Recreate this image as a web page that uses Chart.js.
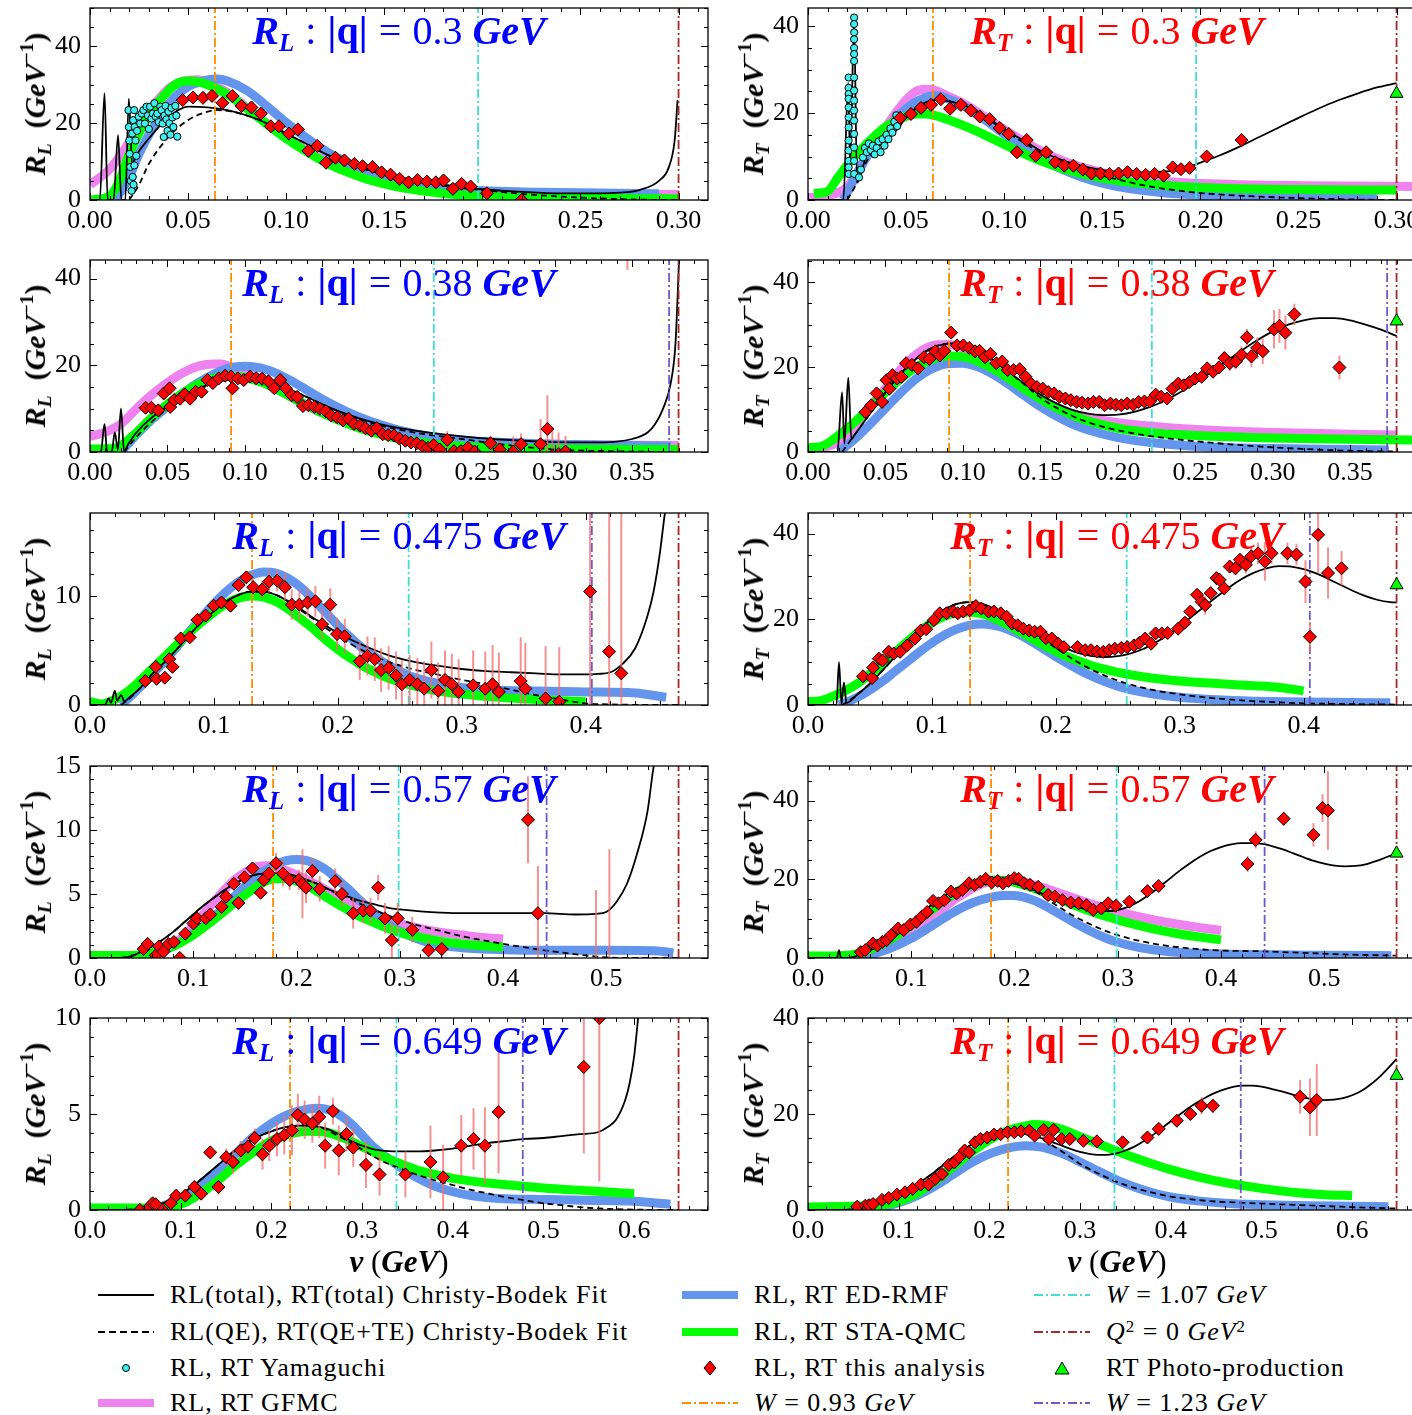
<!DOCTYPE html>
<html>
<head>
<meta charset="utf-8">
<script src="https://cdn.jsdelivr.net/npm/chart.js@4.4.1/dist/chart.umd.min.js"></script>
<style>
  html, body { margin: 0; padding: 0; background: #fff; }
  body { position: relative; width: 1412px; height: 1415px; overflow: hidden; font-family: 'Liberation Serif', 'DejaVu Serif', serif; color: #000; }
  canvas.panel { position: absolute; }
  .title { position: absolute; width: 618px; text-align: center; font-size: 40px; line-height: 44px; white-space: nowrap; }
  .title sub { font-size: 0.62em; vertical-align: -0.3em; line-height: 0; }
  .title .op { margin: 0 0.28em; }
  .ylab { position: absolute; font-size: 30px; white-space: nowrap; transform: translate(-50%, -50%) rotate(-90deg); }
  .ylab sub { font-size: 0.65em; vertical-align: -0.3em; line-height: 0; }
  .ylab sup { font-size: 0.65em; vertical-align: 0.6em; line-height: 0; }
  .xlab { position: absolute; font-size: 31px; white-space: nowrap; transform: translate(-50%, -50%); }
  .leg { position: absolute; height: 30px; display: flex; align-items: center; font-size: 26px; letter-spacing: 1px; white-space: nowrap; }
  .leg svg { margin-right: 16px; flex: none; }
  .leg sup { font-size: 0.65em; vertical-align: 0.5em; line-height: 0; }
</style>
</head>
<body>
<div class="leg" style="left:98px;top:1280px"><svg width="56" height="12"><line x1="0" y1="6" x2="56" y2="6" stroke="#000" stroke-width="2"/></svg><span>RL(total), RT(total) Christy-Bodek Fit</span></div>
<div class="leg" style="left:98px;top:1317px"><svg width="56" height="12"><line x1="0" y1="6" x2="56" y2="6" stroke="#000" stroke-width="2" stroke-dasharray="7,4"/></svg><span>RL(QE), RT(QE+TE) Christy-Bodek Fit</span></div>
<div class="leg" style="left:98px;top:1353px"><svg width="56" height="12"><circle cx="28" cy="6" r="3.5" fill="#3ff0f0" stroke="#000" stroke-width="1"/></svg><span>RL, RT Yamaguchi</span></div>
<div class="leg" style="left:98px;top:1388px"><svg width="56" height="12"><line x1="0" y1="6" x2="56" y2="6" stroke="#ee82ee" stroke-width="8"/></svg><span>RL, RT GFMC</span></div>
<div class="leg" style="left:682px;top:1280px"><svg width="56" height="12"><line x1="0" y1="6" x2="56" y2="6" stroke="#6495ed" stroke-width="8"/></svg><span>RL, RT ED-RMF</span></div>
<div class="leg" style="left:682px;top:1317px"><svg width="56" height="12"><line x1="0" y1="6" x2="56" y2="6" stroke="#00ff00" stroke-width="8"/></svg><span>RL, RT STA-QMC</span></div>
<div class="leg" style="left:682px;top:1353px"><svg width="56" height="16"><polygon points="28,1 34,8 28,15 22,8" fill="#ff0000" stroke="#000" stroke-width="1"/></svg><span>RL, RT this analysis</span></div>
<div class="leg" style="left:682px;top:1388px"><svg width="56" height="12"><line x1="0" y1="6" x2="56" y2="6" stroke="#ff8c00" stroke-width="2" stroke-dasharray="9,3,2,3"/></svg><span><i>W</i> = 0.93 <i>GeV</i></span></div>
<div class="leg" style="left:1034px;top:1280px"><svg width="56" height="12"><line x1="0" y1="6" x2="56" y2="6" stroke="#40e0d0" stroke-width="2" stroke-dasharray="9,3,2,3"/></svg><span><i>W</i> = 1.07 <i>GeV</i></span></div>
<div class="leg" style="left:1034px;top:1317px"><svg width="56" height="12"><line x1="0" y1="6" x2="56" y2="6" stroke="#a52a2a" stroke-width="2" stroke-dasharray="9,3,2,3"/></svg><span><i>Q</i><sup>2</sup> = 0 <i>GeV</i><sup>2</sup></span></div>
<div class="leg" style="left:1034px;top:1353px"><svg width="56" height="16"><polygon points="28,2 35,14 21,14" fill="#00ff00" stroke="#000" stroke-width="1"/></svg><span>RT Photo-production</span></div>
<div class="leg" style="left:1034px;top:1388px"><svg width="56" height="12"><line x1="0" y1="6" x2="56" y2="6" stroke="#6a5acd" stroke-width="2" stroke-dasharray="9,3,2,3"/></svg><span><i>W</i> = 1.23 <i>GeV</i></span></div>

<script>
// |q| values of the five kinematic settings and the axis limits of each row
const qLabels = ['0.3', '0.38', '0.475', '0.57', '0.649'];
const xMaxes = [0.315, 0.399, 0.49875, 0.5985, 0.68145];
const xSteps = [0.05, 0.05, 0.1, 0.1, 0.1];
const xMinors = [0.01, 0.01, 0.02, 0.02, 0.02];
const rlYMax = [50, 44.3, 17.6, 15, 10];
const rlYStep = [20, 20, 10, 5, 5];
const rlYMinor = [5, 5, 2, 1, 1];
const rtYMax = [44.2, 45.2, 44.8, 48.8, 40];
const rtYStep = [20, 20, 20, 20, 20];
const rtYMinor = [5, 5, 5, 5, 5];

// energy transfer (GeV) where W = 0.93, 1.07, 1.23 GeV and Q^2 = 0
const nuW093 = [0.0637, 0.0911, 0.1308, 0.1773, 0.2206];
const nuW107 = [0.1978, 0.2220, 0.2572, 0.2989, 0.3379];
const nuW123 = [null, 0.3739, 0.4050, 0.4422, 0.4772];
const nuQ2zero = [0.3, 0.38, 0.475, 0.57, 0.649];

// ---- R_L, |q| = 0.3 ----
const L1_total = [[0,0],[0.005,0],[0.0074,27.8],[0.009,0],[0.012,0],[0.0143,16.9],[0.016,0],[0.018,0],[0.0198,26.4],[0.0215,9],[0.023,11],[0.03,16],[0.035,19],[0.04,21.5],[0.045,23.4],[0.05,24.3],[0.06,24.1],[0.07,23.4],[0.08,22],[0.09,20],[0.10,17.3],[0.11,14.7],[0.12,12],[0.13,9.9],[0.14,8.1],[0.15,6.8],[0.16,5.7],[0.17,4.8],[0.18,4.0],[0.19,3.3],[0.20,2.8],[0.22,2.1],[0.24,1.7],[0.26,1.7],[0.27,1.9],[0.28,2.6],[0.29,5],[0.295,8.5],[0.298,15.5],[0.2995,26]];
const L1_qe = [[0.02,0],[0.025,4],[0.03,9.4],[0.04,16.4],[0.05,20.8],[0.06,23],[0.065,23.4],[0.07,23.2],[0.08,22],[0.09,20],[0.10,17.3],[0.11,14.7],[0.12,12],[0.13,9.9],[0.14,8.1],[0.15,6.7],[0.16,5.5],[0.17,4.5],[0.18,3.7],[0.19,3.1],[0.20,2.6],[0.22,1.6],[0.24,0.9],[0.26,0.4],[0.28,0.1],[0.30,0]];
const L1_edrmf = [[0.013,0],[0.02,6],[0.025,12],[0.03,17],[0.04,25],[0.05,29.5],[0.06,31.3],[0.065,31.5],[0.07,31],[0.08,28.5],[0.09,24.5],[0.10,20.2],[0.11,16.3],[0.12,12.8],[0.13,10],[0.14,7.8],[0.15,6],[0.16,4.7],[0.18,3.1],[0.20,2.4],[0.22,2.1],[0.25,1.9],[0.29,1.6]];
const L1_staqmc = [[0,0],[0.01,1],[0.015,5],[0.02,12],[0.03,22],[0.04,28.5],[0.045,30.5],[0.05,31],[0.055,30.8],[0.06,30],[0.07,27.5],[0.08,23.8],[0.09,19.8],[0.10,16],[0.11,12.7],[0.12,9.8],[0.13,7.5],[0.14,5.6],[0.15,4.2],[0.16,3.1],[0.18,1.7],[0.20,1.0],[0.25,0.4],[0.30,0.3]];
const L1_gfmc = [[0,4],[0.01,8],[0.02,15],[0.03,23],[0.04,29],[0.05,31.2],[0.055,31.3],[0.06,30.5],[0.07,28],[0.08,24],[0.09,20],[0.10,16.2],[0.11,13],[0.12,10.3],[0.13,8.2],[0.14,6.5],[0.15,5.2],[0.16,4.2],[0.18,2.9],[0.20,2.2],[0.25,1.6],[0.30,1.4]];
const L1_yama = [[0.0196,23.4],[0.0198,19.0],[0.0200,15.5],[0.0202,12.0],[0.0205,8.6],[0.0208,5.0],[0.0212,2.4],[0.0215,17.3],[0.0218,6.0],[0.0220,20.8],[0.0222,4.0],[0.0225,23.4],[0.0226,9.0],[0.0228,19.0],[0.0232,15.5],[0.0236,11.5],[0.0240,18.0],[0.0248,21.7],[0.0256,19.9],[0.0264,22.5],[0.0272,23.4],[0.0280,19.9],[0.0288,24.3],[0.0295,22.0],[0.0300,18.5],[0.0306,24.3],[0.0313,21.2],[0.0320,22.5],[0.0328,25.2],[0.0335,21.7],[0.0343,22.5],[0.0350,20.3],[0.0358,24.3],[0.0365,23.4],[0.0370,19.9],[0.0376,16.4],[0.0380,22.0],[0.0385,24.5],[0.0390,21.0],[0.0395,18.0],[0.0400,23.0],[0.0405,20.0],[0.0410,17.0],[0.0415,24.0],[0.0420,21.5],[0.0425,19.0],[0.0435,24.5],[0.0440,22.0],[0.0445,16.5]];
const L1_data = [[0.0472,26.0,0.6],[0.0525,26.7,0.6],[0.0576,26.6,0.6],[0.0622,27.1,0.6],[0.0675,25.3,0.6],[0.0726,27.1,0.6],[0.0772,24.5,0.6],[0.0823,24.1,0.6],[0.0871,22.5,0.6],[0.0922,19.2,0.5],[0.0963,19.2,0.5],[0.1014,17.3,0.5],[0.106,18.4,0.5],[0.1113,12.8,0.5],[0.1159,14.1,0.5],[0.1203,9.7,0.5],[0.1251,11.0,0.5],[0.1297,10.3,0.5],[0.1348,9.4,0.5],[0.1389,8.8,0.5],[0.144,8.6,0.5],[0.1486,7.2,0.5],[0.1532,6.6,0.5],[0.1578,5.5,0.5],[0.1624,4.6,0.5],[0.167,5.2,0.6],[0.1717,4.8,0.6],[0.1763,4.6,0.7],[0.1802,5.1,1.0],[0.185,2.9,1.2],[0.1894,4.2,1.4],[0.194,3.5,1.0],[0.2023,1.75,1.2],[0.22,0,1.5]];

// ---- R_T, |q| = 0.3 ----
const T1_total = [[0,0],[0.018,0],[0.0205,27],[0.0215,8],[0.0235,41],[0.025,4],[0.027,6],[0.03,10.6],[0.035,12.5],[0.04,13.7],[0.045,16],[0.05,19],[0.055,21.2],[0.06,22.5],[0.065,23],[0.07,22.9],[0.08,21.7],[0.09,19.4],[0.10,16.3],[0.11,13.7],[0.12,11],[0.13,9.1],[0.14,7.8],[0.15,6.9],[0.16,6.4],[0.17,6.3],[0.18,6.5],[0.19,7.0],[0.20,8.6],[0.21,10.3],[0.22,12.3],[0.23,14.5],[0.24,16.7],[0.25,18.9],[0.26,21],[0.27,22.9],[0.28,24.5],[0.29,25.9],[0.30,26.9]];
const T1_qe = [[0.02,0],[0.025,4],[0.03,9],[0.04,14],[0.05,19],[0.06,22.3],[0.07,22.8],[0.08,21.5],[0.09,19.2],[0.10,16],[0.11,13.2],[0.12,10.5],[0.13,8.5],[0.14,6.8],[0.15,5.6],[0.16,4.5],[0.17,3.5],[0.18,2.7],[0.19,2.1],[0.20,1.6],[0.22,1.0],[0.24,0.6],[0.26,0.3],[0.28,0.1],[0.30,0]];
const T1_edrmf = [[0.018,0],[0.025,6],[0.03,10],[0.04,16],[0.05,21],[0.06,23.6],[0.065,24],[0.07,23.5],[0.08,21.5],[0.09,18.5],[0.10,15.2],[0.11,12],[0.12,9.2],[0.13,7],[0.14,5.2],[0.15,3.9],[0.16,2.9],[0.18,1.7],[0.20,1.1],[0.22,0.8],[0.25,0.6],[0.29,0.5]];
const T1_staqmc = [[0.003,1.5],[0.01,2],[0.015,5],[0.02,8],[0.03,13],[0.04,17],[0.05,19.3],[0.055,19.8],[0.06,19.8],[0.065,19.4],[0.07,18.7],[0.08,17],[0.09,15],[0.10,12.8],[0.11,10.7],[0.12,8.8],[0.13,7.2],[0.14,6],[0.15,5],[0.16,4.3],[0.18,3.4],[0.20,2.9],[0.25,2.4],[0.30,2.3]];
const T1_gfmc = [[0,0.5],[0.01,1],[0.02,3],[0.03,10],[0.04,17],[0.05,23],[0.055,25],[0.06,25.5],[0.065,25.2],[0.07,24.2],[0.08,22],[0.09,19.2],[0.10,16.2],[0.11,13.5],[0.12,11],[0.13,9],[0.14,7.5],[0.15,6.3],[0.16,5.4],[0.18,4.3],[0.20,3.8],[0.25,3.3],[0.315,3.1]];
const T1_yama = [[0.0207,28.2],[0.0207,25.8],[0.0207,24.4],[0.0207,23.3],[0.0207,21.3],[0.0207,19.0],[0.0207,16.7],[0.0207,13.7],[0.0207,11.4],[0.0207,9.0],[0.0207,7.5],[0.0207,6.0],[0.0235,42],[0.0235,40.5],[0.0235,38.6],[0.0235,37],[0.0235,35],[0.0235,33.6],[0.0235,32],[0.0235,28.2],[0.0235,25.2],[0.0235,22.9],[0.0235,20.6],[0.0235,18.3],[0.0235,15.2],[0.0235,12.1],[0.0235,9.0],[0.0235,6.0],[0.026,5.2],[0.027,7],[0.028,9.8],[0.029,12],[0.030,11],[0.031,13],[0.032,11.5],[0.033,12.5],[0.034,10.5],[0.035,12],[0.036,13.5],[0.037,11],[0.038,14],[0.039,12.5],[0.040,15],[0.041,14],[0.042,16.5],[0.043,15.5],[0.044,18],[0.045,19.5],[0.0455,17]];
const T1_data = [[0.047,18.9,0.8],[0.0525,19.8,0.8],[0.0576,21.2,0.8],[0.0627,21.9,0.8],[0.0677,23.2,0.8],[0.0724,21.0,1.2],[0.0779,21.9,0.8],[0.083,20.6,0.8],[0.0876,19.2,0.8],[0.0926,18.6,0.8],[0.0977,16.6,0.8],[0.1023,15.2,0.8],[0.1065,11.0,0.8],[0.1115,13.8,0.8],[0.1161,10.2,0.8],[0.1214,11.0,0.8],[0.126,8.7,0.8],[0.1306,7.9,0.8],[0.1353,7.9,0.8],[0.1401,7.0,0.8],[0.1445,6.1,0.8],[0.1491,6.1,0.8],[0.1537,6.0,0.8],[0.1583,6.1,0.8],[0.1629,6.4,0.8],[0.1675,6.0,0.8],[0.1721,5.8,0.9],[0.1767,6.0,0.9],[0.1813,5.6,1.0],[0.1859,7.5,1.2],[0.1901,7.1,1.2],[0.1945,7.4,1.2],[0.2032,10.0,1.3],[0.221,13.8,1.4]];
const T1_photo = [[0.30,24.5]];

// ---- R_L, |q| = 0.38 ----
const L2_total = [[0,0],[0.007,0],[0.0094,6.5],[0.011,0],[0.014,0],[0.016,4.5],[0.018,0.5],[0.020,10],[0.022,0.2],[0.025,2],[0.03,4.5],[0.04,8],[0.05,10.5],[0.06,12.7],[0.07,14.6],[0.08,16],[0.09,16.8],[0.10,17],[0.11,16.6],[0.12,15.7],[0.13,14.3],[0.14,12.7],[0.15,11],[0.16,9.5],[0.17,8.2],[0.18,7.1],[0.19,6.2],[0.20,5.5],[0.22,4.4],[0.24,3.6],[0.26,3.0],[0.28,2.6],[0.30,2.3],[0.32,2.2],[0.34,2.4],[0.35,3],[0.36,4.5],[0.365,6.5],[0.37,10],[0.375,16],[0.378,25],[0.3805,46]];
const L2_qe = [[0.022,0],[0.03,3.5],[0.04,7],[0.05,10],[0.06,12.4],[0.07,14.4],[0.08,15.9],[0.09,16.8],[0.10,17],[0.11,16.6],[0.12,15.7],[0.13,14.3],[0.14,12.7],[0.15,11],[0.16,9.4],[0.17,8.0],[0.18,6.9],[0.19,5.9],[0.20,5.1],[0.22,3.9],[0.24,3.0],[0.26,2.0],[0.28,1.2],[0.30,0.6],[0.32,0.3],[0.34,0.15],[0.36,0.05],[0.38,0]];
const L2_edrmf = [[0.02,0],[0.03,4],[0.04,7.5],[0.05,10.5],[0.06,13.5],[0.07,16],[0.08,18],[0.09,19.4],[0.10,19.8],[0.11,19.4],[0.12,18.2],[0.13,16.4],[0.14,14.3],[0.15,12.2],[0.16,10.3],[0.17,8.6],[0.18,7.2],[0.20,5.0],[0.22,3.6],[0.24,2.8],[0.26,2.3],[0.30,1.8],[0.35,1.5],[0.375,1.3]];
const L2_staqmc = [[0,0.7],[0.015,0.8],[0.02,1.5],[0.03,4.5],[0.04,8],[0.05,11],[0.06,13.6],[0.07,15.6],[0.08,17],[0.09,17.5],[0.10,17.2],[0.11,16.2],[0.12,14.6],[0.13,12.7],[0.14,10.8],[0.15,9],[0.16,7.4],[0.17,6],[0.18,4.8],[0.20,3.0],[0.22,1.9],[0.24,1.3],[0.26,1.0],[0.30,0.7],[0.35,0.6],[0.38,0.6]];
const L2_gfmc = [[0,3.6],[0.01,4.6],[0.02,6.5],[0.03,10],[0.04,13.2],[0.05,16],[0.06,18.3],[0.07,19.8],[0.08,20.3],[0.085,20.3],[0.09,19.8],[0.10,18.6],[0.11,16.8],[0.12,14.7],[0.13,12.6],[0.14,10.7],[0.15,9],[0.16,7.6],[0.18,5.4],[0.20,4],[0.25,2.4],[0.30,1.8],[0.38,1.5]];
const L2_data = [[0.0359,10.2,0.6],[0.0397,10.2,0.6],[0.0441,9.6,0.6],[0.0476,13.5,0.6],[0.0514,14.7,0.6],[0.0518,10.4,0.6],[0.0544,12.0,0.6],[0.0582,12.3,0.6],[0.0611,13.3,0.6],[0.0646,12.3,0.6],[0.0682,13.9,0.6],[0.0720,13.9,0.6],[0.0758,16.6,0.6],[0.0793,15.9,0.6],[0.0832,17.0,0.6],[0.0873,17.6,0.6],[0.0911,17.4,0.6],[0.092,14.7,0.6],[0.0955,17.0,0.6],[0.0993,16.6,0.6],[0.1034,17.4,0.6],[0.1073,17.0,0.6],[0.1111,16.9,0.6],[0.1152,16.3,0.6],[0.119,14.7,0.6],[0.1228,16.6,0.6],[0.1264,14.7,0.6],[0.1302,13.1,0.6],[0.1337,12.7,0.6],[0.1375,10.6,0.6],[0.141,10.8,0.6],[0.1449,10.4,0.6],[0.1484,10.0,0.6],[0.1522,9.4,0.6],[0.1557,8.4,0.6],[0.1596,8.0,0.6],[0.1634,7.3,0.6],[0.1669,7.7,0.6],[0.1704,6.5,0.6],[0.1743,6.1,0.6],[0.1778,5.5,0.6],[0.1816,4.9,0.6],[0.1851,5.5,0.7],[0.189,4.1,0.7],[0.1925,3.9,0.7],[0.1963,3.8,0.7],[0.1998,3.1,0.7],[0.2036,2.6,0.8],[0.2072,2.2,0.8],[0.211,2.0,0.8],[0.2145,1.4,0.9],[0.2183,1.0,0.9],[0.2219,1.6,1.0],[0.2257,0.6,1.0],[0.2307,2.8,2.0],[0.235,0.2,1.2],[0.2395,0.2,1.2],[0.2439,1.0,1.5],[0.2483,0.1,1.5],[0.2586,2.0,1.8],[0.2645,0.6,2.0],[0.2733,0.1,3.5],[0.2783,1.8,2.5],[0.2909,1.8,5.8],[0.2953,5.3,7.8],[0.2985,-0.8,6.5],[0.3025,-0.5,5],[0.307,0.1,3.6],[0.347,48,6]];

// ---- R_T, |q| = 0.38 ----
const T2_total = [[0,0],[0.019,0],[0.022,14.1],[0.0235,2],[0.026,17.5],[0.028,3],[0.03,4],[0.04,9],[0.05,14],[0.06,18.5],[0.07,22],[0.08,24.5],[0.09,25.5],[0.095,25.6],[0.10,25.3],[0.11,23.8],[0.12,21.5],[0.13,18.8],[0.14,16],[0.15,13.5],[0.16,11.5],[0.17,10],[0.18,9.1],[0.19,8.7],[0.20,8.8],[0.21,9.4],[0.22,10.5],[0.23,12],[0.24,14],[0.25,16.2],[0.26,18.7],[0.27,21.3],[0.28,23.9],[0.29,26.3],[0.30,28.4],[0.31,30],[0.32,31],[0.33,31.5],[0.34,31.5],[0.35,31],[0.36,30],[0.37,28.8],[0.38,27.3]];
const T2_qe = [[0.022,0],[0.03,4],[0.04,9],[0.05,14],[0.06,18.5],[0.07,22],[0.08,24.5],[0.09,25.5],[0.10,25.3],[0.11,23.8],[0.12,21.5],[0.13,18.7],[0.14,15.8],[0.15,12.8],[0.16,10.5],[0.17,8.6],[0.18,7.1],[0.19,6],[0.20,5.1],[0.22,3.8],[0.24,2.9],[0.26,2.2],[0.28,1.6],[0.30,1.1],[0.32,0.7],[0.34,0.4],[0.36,0.2],[0.38,0.1]];
const T2_edrmf = [[0.02,0],[0.03,3],[0.04,6.5],[0.05,10.3],[0.06,14],[0.07,17.3],[0.08,19.6],[0.09,20.8],[0.10,20.9],[0.11,20],[0.12,18.2],[0.13,15.8],[0.14,13.2],[0.15,10.7],[0.16,8.5],[0.17,6.7],[0.18,5.3],[0.20,3.4],[0.22,2.3],[0.24,1.6],[0.26,1.2],[0.30,0.8],[0.35,0.6],[0.375,0.5]];
const T2_staqmc = [[0,1],[0.01,1.5],[0.02,4],[0.03,7],[0.04,10.5],[0.05,14],[0.06,17.3],[0.07,20],[0.08,21.8],[0.09,22.6],[0.10,22.4],[0.11,21.3],[0.12,19.5],[0.13,17.2],[0.14,14.8],[0.15,12.5],[0.16,10.5],[0.17,8.8],[0.18,7.4],[0.20,5.6],[0.22,4.6],[0.25,3.9],[0.30,3.3],[0.35,3.0],[0.39,2.8]];
const T2_gfmc = [[0,0.5],[0.01,1],[0.02,2.5],[0.03,6],[0.04,10.5],[0.05,15],[0.06,19.5],[0.07,23],[0.08,25],[0.09,25.3],[0.10,24.5],[0.11,22.7],[0.12,20.2],[0.13,17.5],[0.14,14.8],[0.15,12.5],[0.16,10.6],[0.17,9.2],[0.18,8.2],[0.20,6.9],[0.22,6.1],[0.25,5.3],[0.30,4.6],[0.35,4.2],[0.38,4.0]];
const T2_data = [[0.0370,9.4,0.8],[0.0408,11.0,0.8],[0.0443,13.8,0.8],[0.0478,11.8,0.8],[0.0507,16.9,0.8],[0.0525,14.9,0.8],[0.0545,18.1,0.8],[0.0574,17.3,0.8],[0.0603,17.7,0.8],[0.0633,20.9,0.8],[0.0671,20.5,0.8],[0.0711,19.7,0.8],[0.0749,22.3,0.8],[0.0784,21.9,0.8],[0.0822,23.7,0.8],[0.0851,22.7,0.8],[0.0880,23.8,0.8],[0.0924,28.1,0.8],[0.0962,25.1,0.8],[0.1003,25.1,0.8],[0.1041,24.5,0.8],[0.1079,23.7,0.8],[0.1108,23.8,0.8],[0.1143,22.3,0.8],[0.1178,23.1,0.8],[0.1216,20.9,0.8],[0.1254,21.3,0.8],[0.1289,19.3,0.8],[0.1327,19.3,0.8],[0.1367,19.5,0.8],[0.1405,17.7,0.8],[0.1440,16.1,0.8],[0.1478,15.3,0.8],[0.1516,14.9,0.8],[0.1551,14.1,0.8],[0.1589,13.8,0.8],[0.1624,13.0,0.8],[0.1662,12.6,0.8],[0.1697,12.2,0.8],[0.1735,11.8,0.8],[0.1770,11.6,0.8],[0.1808,11.4,0.8],[0.1843,11.8,0.8],[0.1880,11.8,0.8],[0.1915,11.0,0.8],[0.1953,11.4,0.8],[0.1988,11.1,0.8],[0.2023,11.0,0.8],[0.2061,11.4,0.8],[0.2099,11.1,0.9],[0.2134,11.8,0.9],[0.2172,11.9,0.9],[0.2207,11.9,0.9],[0.2245,13.5,1.0],[0.2280,13.0,1.0],[0.2318,12.6,1.2],[0.2353,14.9,1.0],[0.2391,16.1,1.0],[0.2426,15.7,1.0],[0.2464,16.5,1.0],[0.2499,17.3,1.0],[0.2542,17.7,1.2],[0.2577,19.7,1.2],[0.2615,18.9,1.5],[0.2653,19.9,1.2],[0.2688,22.1,1.5],[0.2723,20.9,1.8],[0.2761,21.3,1.8],[0.2799,22.9,2.0],[0.2834,27.0,2.0],[0.2863,22.5,2.5],[0.2901,24.5,2.5],[0.2936,23.7,3.0],[0.3009,28.9,4.5],[0.3044,29.7,4.0],[0.3082,28.1,4.0],[0.3140,32.4,2.5],[0.3431,19.9,2.8]];
const T2_photo = [[0.38,30.8]];

// ---- R_L, |q| = 0.475 ----
const L3_total = [[0,0],[0.012,0],[0.015,0.6],[0.017,0.2],[0.02,1.3],[0.022,0.4],[0.025,0.9],[0.028,0.3],[0.03,0.5],[0.04,1.5],[0.05,2.8],[0.06,3.9],[0.07,5.1],[0.08,6.4],[0.09,7.6],[0.10,8.6],[0.11,9.5],[0.12,10.1],[0.13,10.4],[0.14,10.4],[0.15,10.1],[0.16,9.5],[0.17,8.8],[0.18,8.0],[0.19,7.3],[0.20,6.6],[0.22,5.5],[0.24,4.6],[0.26,4.0],[0.28,3.6],[0.30,3.3],[0.32,3.1],[0.34,3.0],[0.36,2.9],[0.38,2.8],[0.40,2.8],[0.41,2.85],[0.42,3.0],[0.43,3.8],[0.44,5.2],[0.45,8.2],[0.455,10.5],[0.46,14],[0.464,17.6],[0.467,19.5]];
const L3_qe = [[0.025,0],[0.03,0.4],[0.04,1.5],[0.05,2.8],[0.06,3.9],[0.07,5.1],[0.08,6.4],[0.09,7.6],[0.10,8.6],[0.11,9.5],[0.12,10.1],[0.13,10.4],[0.14,10.4],[0.15,10.1],[0.16,9.5],[0.17,8.7],[0.18,7.9],[0.19,7.1],[0.20,6.3],[0.22,5.0],[0.24,4.0],[0.26,3.3],[0.28,2.8],[0.30,2.3],[0.32,1.9],[0.34,1.4],[0.36,0.9],[0.38,0.5],[0.40,0.15],[0.42,0.05],[0.475,0]];
const L3_edrmf = [[0.025,0],[0.03,0.5],[0.04,1.6],[0.05,2.8],[0.06,4.0],[0.07,5.3],[0.08,6.7],[0.09,8.0],[0.10,9.3],[0.11,10.4],[0.12,11.3],[0.13,11.9],[0.14,12.2],[0.15,12.1],[0.16,11.6],[0.17,10.8],[0.18,9.7],[0.19,8.5],[0.20,7.3],[0.21,6.2],[0.22,5.2],[0.23,4.4],[0.24,3.7],[0.25,3.1],[0.26,2.6],[0.28,2.0],[0.30,1.6],[0.32,1.4],[0.35,1.3],[0.40,1.2],[0.44,1.1],[0.465,0.7]];
const L3_staqmc = [[0,0.3],[0.01,0.1],[0.02,0.5],[0.03,1.2],[0.04,2.2],[0.05,3.3],[0.06,4.4],[0.07,5.5],[0.08,6.6],[0.09,7.6],[0.10,8.5],[0.11,9.3],[0.12,9.8],[0.13,10.0],[0.14,9.9],[0.15,9.5],[0.16,8.8],[0.17,7.9],[0.18,7.0],[0.19,6.0],[0.20,5.1],[0.21,4.3],[0.22,3.6],[0.23,3.0],[0.24,2.5],[0.26,1.8],[0.28,1.3],[0.30,1.0],[0.33,0.7],[0.36,0.5],[0.40,0.3]];
const L3_data = [[0.0446,2.2,0.3],[0.0531,3.5,0.3],[0.0538,2.4,0.3],[0.0604,2.5,0.3],[0.064,4.2,0.3],[0.0666,3.5,0.3],[0.0732,6.1,0.3],[0.0805,6.2,0.3],[0.0867,7.8,0.3],[0.0933,8.2,0.3],[0.0999,9.1,0.4],[0.1061,9.4,0.4],[0.1134,9.1,0.5],[0.12,11.0,0.6],[0.1262,11.7,0.6],[0.1317,10.8,0.7],[0.139,10.6,0.8],[0.1445,11.3,1.0],[0.1511,11.4,1.0],[0.1573,10.8,1.2],[0.1628,9.2,1.4],[0.169,9.2,1.4],[0.1756,9.4,1.3],[0.1819,9.5,1.4],[0.1873,7.4,1.4],[0.1939,9.2,1.5],[0.1994,6.5,1.5],[0.2056,6.3,1.6],[0.2177,4.0,1.7],[0.2239,4.5,1.8],[0.2298,4.2,2.0],[0.2349,3.2,2.0],[0.241,3.4,2.0],[0.247,2.7,2.2],[0.2517,1.9,2.2],[0.258,2.3,2.3],[0.2642,1.9,2.4],[0.2697,1.5,2.5],[0.2755,3.2,2.6],[0.281,1.3,2.6],[0.2865,2.3,2.7],[0.292,1.9,2.8],[0.2975,1.2,3.0],[0.3092,1.8,3.2],[0.319,1.5,3.4],[0.3249,1.9,3.6],[0.33,1.2,3.6],[0.3476,2.2,4.0],[0.3513,1.5,4.2],[0.3677,0.6,4.8],[0.3787,0.3,5.0],[0.4036,10.4,12],[0.419,4.9,15],[0.4288,2.9,15]];

// ---- R_T, |q| = 0.475 ----
const T3_total = [[0,0],[0.023,0],[0.025,10],[0.027,0.3],[0.029,5.3],[0.031,0.5],[0.04,2.5],[0.05,5],[0.06,8],[0.07,11.2],[0.08,14.5],[0.09,17.5],[0.10,20.2],[0.11,22.3],[0.12,23.6],[0.13,24.0],[0.14,23.6],[0.15,22.5],[0.16,21],[0.17,19.2],[0.18,17.4],[0.19,15.7],[0.20,14.2],[0.21,13],[0.22,12],[0.23,11.4],[0.24,11.2],[0.25,11.4],[0.26,12],[0.27,13],[0.28,14.5],[0.29,16.3],[0.30,18.4],[0.31,20.7],[0.32,23],[0.33,25.3],[0.34,27.5],[0.35,29.4],[0.36,30.9],[0.37,31.9],[0.38,32.4],[0.39,32.3],[0.40,31.7],[0.41,30.7],[0.42,29.4],[0.43,28],[0.44,26.6],[0.45,25.4],[0.46,24.5],[0.47,24],[0.475,23.9]];
const T3_qe = [[0.027,0],[0.03,0.4],[0.04,2.5],[0.05,5],[0.06,8],[0.07,11.2],[0.08,14.5],[0.09,17.5],[0.10,20.2],[0.11,22.3],[0.12,23.6],[0.13,24.0],[0.14,23.6],[0.15,22.5],[0.16,21],[0.17,19.1],[0.18,17.2],[0.19,15.3],[0.20,13.3],[0.21,11.4],[0.22,9.6],[0.23,8.1],[0.24,6.8],[0.25,5.7],[0.26,4.8],[0.28,3.4],[0.30,2.5],[0.32,1.8],[0.34,1.3],[0.36,0.9],[0.38,0.6],[0.40,0.4],[0.44,0.2],[0.475,0.1]];
const T3_edrmf = [[0.025,0],[0.03,0.5],[0.04,1.8],[0.05,3.5],[0.06,5.5],[0.07,7.8],[0.08,10.1],[0.09,12.4],[0.10,14.5],[0.11,16.3],[0.12,17.7],[0.13,18.6],[0.14,18.9],[0.15,18.6],[0.16,17.8],[0.17,16.5],[0.18,14.9],[0.19,13.1],[0.20,11.3],[0.21,9.6],[0.22,8.0],[0.23,6.6],[0.24,5.4],[0.25,4.4],[0.26,3.6],[0.28,2.5],[0.30,1.8],[0.33,1.2],[0.36,0.9],[0.40,0.7],[0.44,0.6],[0.47,0.5]];
const T3_staqmc = [[0,0.8],[0.01,1.0],[0.02,2],[0.03,3.3],[0.04,5],[0.05,7.2],[0.06,9.6],[0.07,12.2],[0.08,14.8],[0.09,17.2],[0.10,19.2],[0.11,20.7],[0.12,21.5],[0.13,21.7],[0.14,21.3],[0.15,20.3],[0.16,18.9],[0.17,17.3],[0.18,15.6],[0.19,14],[0.20,12.5],[0.21,11.2],[0.22,10.1],[0.23,9.1],[0.24,8.3],[0.25,7.6],[0.27,6.6],[0.30,5.6],[0.33,5.0],[0.36,4.5],[0.38,4.1],[0.40,3.3]];
const T3_data = [[0.0444,6.7,0.6],[0.0517,6.3,0.6],[0.0525,8.7,0.6],[0.0572,10.8,0.6],[0.0601,10.4,0.6],[0.0652,12.4,0.6],[0.0692,12.0,0.6],[0.0743,12.4,0.6],[0.0801,13.9,0.6],[0.0863,15.5,0.6],[0.0911,17.4,0.6],[0.0954,17.7,0.6],[0.1016,19.8,0.6],[0.1064,21.4,0.6],[0.1118,21.4,0.6],[0.1173,21.8,0.6],[0.1209,21.4,0.6],[0.1253,21.8,0.6],[0.1304,22.1,0.6],[0.1355,23.1,0.6],[0.1399,22.5,0.6],[0.1457,21.8,0.6],[0.1501,21.8,0.6],[0.1556,21.4,0.6],[0.1603,20.6,0.7],[0.1647,19.0,0.7],[0.1694,18.6,0.7],[0.1738,17.8,0.7],[0.1785,17.4,0.7],[0.1829,17.1,0.8],[0.1876,17.1,0.8],[0.192,15.6,0.8],[0.1967,15.5,0.8],[0.2018,14.3,0.8],[0.2066,13.5,0.8],[0.2175,13.5,0.8],[0.2237,12.8,0.8],[0.2284,12.8,0.8],[0.2332,12.5,0.8],[0.2383,12.4,0.8],[0.243,12.8,0.8],[0.2477,13.1,0.8],[0.2528,13.3,0.8],[0.2576,13.5,0.8],[0.263,13.9,0.9],[0.2674,14.5,0.9],[0.2721,15.5,0.9],[0.2769,14.3,1.0],[0.2805,16.7,1.0],[0.2856,16.7,1.0],[0.2903,16.8,1.0],[0.2987,17.8,1.0],[0.3042,19.2,1.2],[0.3086,21.8,1.2],[0.314,25.7,1.5],[0.3177,24.1,1.5],[0.3206,23.3,2.2],[0.325,26.1,1.5],[0.3297,29.6,1.5],[0.3322,29.2,1.5],[0.3359,27.2,1.5],[0.3403,32.3,1.5],[0.345,31.9,1.5],[0.3486,33.9,1.5],[0.3534,32.7,2.0],[0.3577,34.7,2.0],[0.3632,35.4,2.5],[0.3687,33.5,4.5],[0.3741,35.4,2.5],[0.3869,35.4,2.5],[0.3942,35.1,2.5],[0.4015,28.8,5],[0.4051,15.9,3.5],[0.4117,39.7,9],[0.4197,30.8,6],[0.4306,31.9,4]];
const T3_photo = [[0.475,28.0]];

// ---- R_L, |q| = 0.57 ----
const L4_total = [[0,0],[0.03,0],[0.04,0.15],[0.05,0.5],[0.06,0.9],[0.07,1.4],[0.08,2.0],[0.09,2.7],[0.10,3.4],[0.11,4.1],[0.12,4.7],[0.13,5.3],[0.14,5.8],[0.15,6.2],[0.16,6.5],[0.17,6.6],[0.18,6.65],[0.19,6.6],[0.20,6.4],[0.21,6.1],[0.22,5.8],[0.23,5.4],[0.24,5.1],[0.25,4.8],[0.26,4.5],[0.27,4.3],[0.28,4.1],[0.29,3.9],[0.30,3.8],[0.32,3.65],[0.34,3.55],[0.36,3.5],[0.40,3.5],[0.44,3.5],[0.47,3.4],[0.49,3.45],[0.50,3.6],[0.51,4.4],[0.52,5.8],[0.53,8.2],[0.54,11.5],[0.545,14.5],[0.548,16]];
const L4_qe = [[0.03,0],[0.04,0.15],[0.05,0.5],[0.06,0.9],[0.07,1.4],[0.08,2.0],[0.09,2.7],[0.10,3.4],[0.11,4.1],[0.12,4.7],[0.13,5.3],[0.14,5.8],[0.15,6.2],[0.16,6.5],[0.17,6.6],[0.18,6.65],[0.19,6.6],[0.20,6.4],[0.21,6.1],[0.22,5.8],[0.23,5.4],[0.24,5.0],[0.25,4.7],[0.26,4.3],[0.28,3.6],[0.30,3.0],[0.32,2.5],[0.34,2.1],[0.36,1.7],[0.38,1.4],[0.40,1.1],[0.42,0.85],[0.44,0.6],[0.46,0.4],[0.48,0.2],[0.50,0.05],[0.52,0],[0.57,0]];
const L4_edrmf = [[0.04,0],[0.06,0.3],[0.08,0.9],[0.10,1.9],[0.12,3.2],[0.14,4.8],[0.16,6.3],[0.18,7.3],[0.19,7.6],[0.20,7.7],[0.21,7.6],[0.22,7.3],[0.23,6.8],[0.24,6.1],[0.25,5.4],[0.26,4.6],[0.27,3.9],[0.28,3.2],[0.29,2.6],[0.30,2.1],[0.32,1.4],[0.34,1.0],[0.36,0.8],[0.40,0.65],[0.45,0.6],[0.50,0.6],[0.55,0.55],[0.565,0.4]];
const L4_staqmc = [[0,0.2],[0.04,0.2],[0.06,0.4],[0.08,0.9],[0.10,1.8],[0.12,3.0],[0.14,4.3],[0.16,5.5],[0.17,6.0],[0.18,6.2],[0.19,6.2],[0.20,6.0],[0.21,5.7],[0.22,5.2],[0.24,4.2],[0.26,3.3],[0.28,2.6],[0.30,2.0],[0.32,1.6],[0.34,1.3],[0.36,1.1],[0.38,0.95],[0.40,0.85]];
const L4_gfmc = [[0.045,0],[0.06,0.3],[0.08,1.0],[0.10,2.5],[0.12,4.4],[0.14,6.1],[0.16,7.1],[0.17,7.2],[0.18,7.1],[0.20,6.5],[0.22,5.7],[0.24,4.8],[0.26,4.0],[0.28,3.3],[0.30,2.7],[0.32,2.3],[0.34,2.0],[0.36,1.8],[0.38,1.6],[0.40,1.5]];
const L4_data = [[0.0519,0.7,0.3],[0.0558,1.1,0.3],[0.0637,0.2,0.3],[0.0668,0.9,0.3],[0.0712,0.5,0.3],[0.076,1.1,0.3],[0.0813,1.25,0.3],[0.087,0,0.3],[0.0923,1.9,0.3],[0.1002,2.7,0.3],[0.1037,3.1,0.3],[0.1121,3.1,0.3],[0.1165,3.4,0.4],[0.1275,4.0,0.7],[0.1319,4.8,0.5],[0.1393,5.8,0.4],[0.1437,4.3,0.4],[0.1495,6.3,0.4],[0.1574,7.0,0.4],[0.1653,5.1,0.5],[0.1684,6.1,0.5],[0.1732,6.6,0.6],[0.1802,7.4,0.8],[0.1868,6.6,1.0],[0.1934,6.1,0.8],[0.2022,6.1,0.8],[0.2057,5.8,2.7],[0.2092,5.5,1.2],[0.2154,6.8,1.0],[0.2224,5.4,1.0],[0.2374,6.0,1.0],[0.244,5.0,1.0],[0.2549,3.5,1.2],[0.2646,3.7,1.0],[0.2716,3.7,1.0],[0.2791,5.5,1.0],[0.2857,3.1,1.2],[0.2923,1.4,1.4],[0.298,3.1,1.2],[0.3121,2.2,1.0],[0.3279,0.6,0.8],[0.3407,0.7,0.8],[0.4242,10.8,3.4],[0.4338,3.5,3.7],[0.49,-1.5,6.8],[0.503,-1.5,10]];

// ---- R_T, |q| = 0.57 ----
const T4_total = [[0,0],[0.028,0],[0.03,2],[0.032,0],[0.04,0],[0.05,0.8],[0.06,2],[0.07,3.5],[0.08,5.2],[0.09,7.2],[0.10,9.3],[0.11,11.5],[0.12,13.6],[0.13,15.5],[0.14,17.1],[0.15,18.3],[0.16,19.1],[0.17,19.5],[0.18,19.6],[0.19,19.4],[0.20,18.9],[0.21,18.1],[0.22,17.1],[0.23,16.0],[0.24,14.9],[0.25,13.9],[0.26,13.0],[0.27,12.4],[0.28,12.0],[0.29,11.9],[0.30,12.2],[0.31,13.0],[0.32,14.3],[0.33,16.0],[0.34,18.0],[0.35,20.1],[0.36,22.2],[0.37,24.1],[0.38,25.8],[0.39,27.2],[0.40,28.2],[0.41,28.9],[0.42,29.2],[0.43,29.2],[0.44,29.0],[0.45,28.4],[0.46,27.6],[0.47,26.6],[0.48,25.6],[0.49,24.7],[0.50,24.0],[0.51,23.5],[0.52,23.3],[0.53,23.4],[0.54,23.8],[0.55,24.6],[0.56,25.6],[0.57,26.5]];
const T4_qe = [[0.04,0],[0.05,0.8],[0.06,2],[0.07,3.5],[0.08,5.2],[0.09,7.2],[0.10,9.3],[0.11,11.5],[0.12,13.6],[0.13,15.5],[0.14,17.1],[0.15,18.3],[0.16,19.1],[0.17,19.5],[0.18,19.6],[0.19,19.4],[0.20,18.9],[0.21,18.0],[0.22,16.9],[0.23,15.2],[0.24,13.5],[0.25,11.8],[0.26,10.3],[0.27,9.0],[0.28,7.8],[0.29,6.7],[0.30,5.8],[0.32,4.4],[0.34,3.4],[0.36,2.7],[0.38,2.2],[0.40,1.9],[0.44,1.7],[0.48,1.3],[0.52,0.9],[0.57,0.6]];
const T4_edrmf = [[0.04,0],[0.06,0.8],[0.08,2.5],[0.10,5],[0.12,8.2],[0.14,11.5],[0.16,14.1],[0.18,15.6],[0.19,15.9],[0.20,15.9],[0.21,15.4],[0.22,14.5],[0.23,13.2],[0.24,11.7],[0.25,10.2],[0.26,8.7],[0.27,7.3],[0.28,6.0],[0.29,4.9],[0.30,4.0],[0.32,2.7],[0.34,1.9],[0.36,1.4],[0.40,1.0],[0.45,0.8],[0.50,0.7],[0.565,0.6]];
const T4_staqmc = [[0,0.5],[0.03,0.6],[0.05,1.2],[0.07,3.3],[0.09,6.5],[0.11,10.3],[0.13,14.3],[0.15,17.7],[0.17,19.5],[0.18,19.8],[0.19,19.7],[0.20,19.2],[0.22,17.6],[0.24,15.4],[0.26,13.2],[0.28,11.3],[0.30,9.7],[0.32,8.3],[0.34,7.1],[0.36,6.1],[0.38,5.3],[0.40,4.6]];
const T4_gfmc = [[0.05,0.3],[0.06,1],[0.08,3.2],[0.10,6.3],[0.12,10.3],[0.14,14.5],[0.16,17.8],[0.17,19],[0.18,19.6],[0.20,19.6],[0.22,18.5],[0.24,16.8],[0.26,15.0],[0.28,13.3],[0.30,11.8],[0.32,10.5],[0.34,9.4],[0.36,8.5],[0.38,7.7],[0.40,7.0]];
const T4_data = [[0.0511,1.5,0.5],[0.0555,2.0,0.5],[0.0629,3.7,0.5],[0.0673,3.2,0.5],[0.0721,4.1,0.5],[0.0760,4.5,0.5],[0.0804,5.8,0.5],[0.0874,7.5,0.5],[0.0927,7.1,0.5],[0.0992,8.5,0.5],[0.1049,9.2,0.5],[0.1101,10.5,0.5],[0.1154,11.7,0.5],[0.1211,14.5,0.5],[0.1263,13.9,0.5],[0.1320,14.7,0.5],[0.1385,16.9,0.6],[0.1438,16.4,0.6],[0.1495,17.3,0.6],[0.1560,19.0,0.6],[0.1613,18.6,0.6],[0.1670,19.4,0.7],[0.1722,20.1,0.7],[0.1779,19.2,0.7],[0.1836,19.6,0.7],[0.1888,19.0,0.8],[0.1941,19.6,0.8],[0.1997,20.3,0.8],[0.2041,20.1,1.5],[0.2094,19.0,0.8],[0.2150,18.6,0.8],[0.2229,18.1,0.8],[0.2325,16.0,0.8],[0.2391,15.6,0.8],[0.2465,14.7,0.8],[0.2544,14.1,0.8],[0.2622,13.9,0.8],[0.2697,13.4,0.8],[0.2762,12.2,0.8],[0.2841,12.6,0.8],[0.2906,13.9,0.9],[0.2981,13.3,0.9],[0.3112,14.3,1.0],[0.3287,17.0,1.0],[0.3396,18.3,1.0],[0.4257,23.9,2.0],[0.4336,30.0,2.2],[0.4607,35.4,1.8],[0.4895,31.3,3.0],[0.4983,38.1,3.5],[0.5035,37.5,10]];
const T4_photo = [[0.57,26.6]];

// ---- R_L, |q| = 0.649 ----
const L5_total = [[0,0],[0.04,0],[0.06,0.1],[0.08,0.35],[0.10,0.8],[0.12,1.5],[0.14,2.3],[0.16,3.1],[0.18,3.7],[0.20,4.1],[0.22,4.35],[0.24,4.4],[0.25,4.35],[0.26,4.25],[0.27,4.05],[0.28,3.8],[0.29,3.55],[0.30,3.35],[0.31,3.2],[0.32,3.1],[0.34,3.05],[0.36,3.05],[0.38,3.1],[0.40,3.2],[0.42,3.35],[0.44,3.5],[0.46,3.6],[0.48,3.7],[0.50,3.75],[0.52,3.85],[0.54,3.95],[0.56,4.05],[0.57,4.3],[0.58,4.7],[0.59,5.7],[0.595,6.6],[0.60,8.0],[0.605,10.3]];
const L5_qe = [[0.04,0],[0.06,0.1],[0.08,0.35],[0.10,0.8],[0.12,1.5],[0.14,2.3],[0.16,3.1],[0.18,3.7],[0.20,4.1],[0.22,4.35],[0.24,4.4],[0.25,4.35],[0.26,4.2],[0.27,3.95],[0.28,3.7],[0.30,3.15],[0.32,2.6],[0.34,2.2],[0.36,1.85],[0.38,1.55],[0.40,1.3],[0.42,1.05],[0.44,0.85],[0.46,0.65],[0.48,0.5],[0.50,0.35],[0.52,0.25],[0.54,0.15],[0.56,0.08],[0.60,0.02],[0.649,0]];
const L5_edrmf = [[0.06,0],[0.08,0.2],[0.10,0.6],[0.12,1.2],[0.14,2.0],[0.16,2.9],[0.18,3.8],[0.20,4.5],[0.22,5.0],[0.24,5.25],[0.25,5.3],[0.26,5.25],[0.27,5.1],[0.28,4.8],[0.29,4.4],[0.30,3.9],[0.31,3.4],[0.32,3.0],[0.34,2.3],[0.36,1.7],[0.38,1.25],[0.40,0.95],[0.42,0.75],[0.45,0.6],[0.50,0.55],[0.55,0.5],[0.60,0.45],[0.64,0.3]];
const L5_staqmc = [[0,0.1],[0.06,0.1],[0.08,0.15],[0.10,0.3],[0.12,0.8],[0.14,1.5],[0.16,2.3],[0.18,3.0],[0.20,3.6],[0.22,3.95],[0.24,4.1],[0.26,4.05],[0.28,3.75],[0.30,3.3],[0.32,2.85],[0.34,2.45],[0.36,2.1],[0.38,1.85],[0.40,1.65],[0.45,1.35],[0.50,1.15],[0.55,1.0],[0.60,0.85]];
const L5_data = [[0.055,0,0.1],[0.0651,0.14,0.1],[0.0691,0.35,0.1],[0.0726,0.3,0.1],[0.0801,0,0.1],[0.0891,0.35,0.15],[0.0951,0.75,0.15],[0.1051,0.75,0.2],[0.1151,1.2,0.25],[0.1226,0.85,0.3],[0.1326,3.0,0.35],[0.1416,1.2,0.4],[0.1502,2.75,0.45],[0.1577,2.5,0.6],[0.1662,3.1,0.5],[0.1742,3.3,0.5],[0.1817,3.75,0.5],[0.1902,2.9,0.8],[0.1977,3.35,0.8],[0.2062,3.7,0.9],[0.2142,3.9,1.0],[0.2227,4.15,1.3],[0.2292,4.95,1.1],[0.2367,4.7,1.0],[0.2452,4.5,1.0],[0.2528,4.85,1.1],[0.2593,3.35,1.2],[0.2678,5.15,0.7],[0.2743,3.1,1.3],[0.2828,3.95,0.9],[0.2903,3.25,1.0],[0.3043,2.35,1.2],[0.3193,1.85,1.1],[0.3478,1.85,1.2],[0.3754,2.5,1.9],[0.3894,1.7,1.7],[0.4094,3.35,1.6],[0.4229,3.7,1.6],[0.4354,3.35,2.0],[0.4505,5.1,3.2],[0.5445,7.45,4.5],[0.5616,10.0,8.5]];

// ---- R_T, |q| = 0.649 ----
const T5_total = [[0,0],[0.04,0],[0.05,0.2],[0.06,0.6],[0.07,1.1],[0.08,1.7],[0.09,2.4],[0.10,3.2],[0.11,4.2],[0.12,5.3],[0.13,6.6],[0.14,8.0],[0.15,9.5],[0.16,11.0],[0.17,12.4],[0.18,13.6],[0.19,14.6],[0.20,15.3],[0.21,15.8],[0.22,16.0],[0.23,16.0],[0.24,15.8],[0.25,15.4],[0.26,14.8],[0.27,14.1],[0.28,13.4],[0.29,12.7],[0.30,12.1],[0.31,11.7],[0.32,11.5],[0.33,11.5],[0.34,11.8],[0.35,12.4],[0.36,13.2],[0.37,14.3],[0.38,15.6],[0.39,17.0],[0.40,18.5],[0.41,19.9],[0.42,21.3],[0.43,22.5],[0.44,23.6],[0.45,24.5],[0.46,25.2],[0.47,25.7],[0.48,25.9],[0.49,25.9],[0.50,25.7],[0.51,25.3],[0.52,24.8],[0.53,24.3],[0.54,23.7],[0.55,23.3],[0.56,23.0],[0.57,22.9],[0.58,23.0],[0.59,23.3],[0.60,23.9],[0.61,24.8],[0.62,26.1],[0.63,27.7],[0.64,29.6],[0.649,31.5]];
const T5_qe = [[0.04,0],[0.05,0.2],[0.06,0.6],[0.07,1.1],[0.08,1.7],[0.09,2.4],[0.10,3.2],[0.11,4.2],[0.12,5.3],[0.13,6.6],[0.14,8.0],[0.15,9.5],[0.16,11.0],[0.17,12.4],[0.18,13.6],[0.19,14.6],[0.20,15.3],[0.21,15.8],[0.22,16.0],[0.23,16.0],[0.24,15.8],[0.25,15.3],[0.26,14.5],[0.27,13.4],[0.28,12.2],[0.29,10.9],[0.30,9.6],[0.32,7.6],[0.34,5.9],[0.36,4.6],[0.38,3.6],[0.40,2.8],[0.44,1.9],[0.48,1.5],[0.52,1.2],[0.56,0.9],[0.60,0.6],[0.649,0.3]];
const T5_edrmf = [[0.06,0],[0.08,0.5],[0.10,1.5],[0.12,3],[0.14,5],[0.16,7.4],[0.18,9.8],[0.20,11.7],[0.22,12.9],[0.24,13.4],[0.25,13.3],[0.26,13.0],[0.28,11.8],[0.30,10.0],[0.32,8.1],[0.34,6.3],[0.36,4.8],[0.38,3.6],[0.40,2.7],[0.43,1.9],[0.46,1.4],[0.50,1.1],[0.55,0.9],[0.60,0.8],[0.64,0.7]];
const T5_staqmc = [[0,0.6],[0.05,0.8],[0.08,1.0],[0.10,1.8],[0.12,3.5],[0.14,6.0],[0.16,9.0],[0.18,12.0],[0.20,14.6],[0.22,16.5],[0.24,17.5],[0.25,17.8],[0.26,17.7],[0.28,16.8],[0.30,15.3],[0.32,13.8],[0.34,12.3],[0.36,10.9],[0.38,9.6],[0.40,8.4],[0.43,6.9],[0.46,5.7],[0.50,4.5],[0.54,3.6],[0.57,3.2],[0.60,3.0]];
const T5_data = [[0.0543,0.7,0.3],[0.0632,0.9,0.3],[0.0672,1.0,0.3],[0.0717,1.25,0.3],[0.0816,2.1,0.3],[0.0891,2.5,0.3],[0.0981,3.2,0.3],[0.1070,3.7,0.3],[0.1155,4.4,0.3],[0.1244,5.3,0.3],[0.1329,5.3,0.3],[0.1404,6.5,0.3],[0.1478,7.5,0.3],[0.1553,9.4,0.3],[0.1613,9.9,0.3],[0.1668,11.0,0.3],[0.1727,12.4,0.3],[0.1777,12.0,0.3],[0.1842,14.1,0.4],[0.1901,14.8,0.4],[0.1976,15.1,0.4],[0.2051,15.7,0.4],[0.2125,15.8,0.4],[0.2200,16.2,0.4],[0.2275,16.2,0.4],[0.2349,16.4,0.5],[0.2439,16.5,0.5],[0.2499,15.5,0.5],[0.2598,16.7,0.5],[0.2658,14.8,0.6],[0.2708,16.7,0.6],[0.2797,14.8,0.6],[0.2887,14.8,0.6],[0.3036,14.4,0.6],[0.3186,14.3,0.6],[0.3469,14.1,0.7],[0.3743,15.1,0.8],[0.3868,16.9,0.8],[0.4067,18.6,0.9],[0.4216,20.0,1.2],[0.4340,21.7,1.8],[0.4465,21.7,1.5],[0.5426,23.6,3.5],[0.5535,21.4,6],[0.5610,22.9,7.5]];
const T5_photo = [[0.649,28.0]];

// series for each row, left column R_L then right column R_T
const rlSeries = [
  { total: L1_total, qe: L1_qe, edrmf: L1_edrmf, staqmc: L1_staqmc, gfmc: L1_gfmc, yama: L1_yama, data: L1_data, photo: [] },
  { total: L2_total, qe: L2_qe, edrmf: L2_edrmf, staqmc: L2_staqmc, gfmc: L2_gfmc, yama: [], data: L2_data, photo: [] },
  { total: L3_total, qe: L3_qe, edrmf: L3_edrmf, staqmc: L3_staqmc, gfmc: [], yama: [], data: L3_data, photo: [] },
  { total: L4_total, qe: L4_qe, edrmf: L4_edrmf, staqmc: L4_staqmc, gfmc: L4_gfmc, yama: [], data: L4_data, photo: [] },
  { total: L5_total, qe: L5_qe, edrmf: L5_edrmf, staqmc: L5_staqmc, gfmc: [], yama: [], data: L5_data, photo: [] }
];
const rtSeries = [
  { total: T1_total, qe: T1_qe, edrmf: T1_edrmf, staqmc: T1_staqmc, gfmc: T1_gfmc, yama: T1_yama, data: T1_data, photo: T1_photo },
  { total: T2_total, qe: T2_qe, edrmf: T2_edrmf, staqmc: T2_staqmc, gfmc: T2_gfmc, yama: [], data: T2_data, photo: T2_photo },
  { total: T3_total, qe: T3_qe, edrmf: T3_edrmf, staqmc: T3_staqmc, gfmc: [], yama: [], data: T3_data, photo: T3_photo },
  { total: T4_total, qe: T4_qe, edrmf: T4_edrmf, staqmc: T4_staqmc, gfmc: T4_gfmc, yama: [], data: T4_data, photo: T4_photo },
  { total: T5_total, qe: T5_qe, edrmf: T5_edrmf, staqmc: T5_staqmc, gfmc: [], yama: [], data: T5_data, photo: T5_photo }
];

// page layout of the plot areas
const PLOT_W = 618, PLOT_H = 192;
const colLeft = [90, 808];
const rowTop = [8, 260, 513, 766, 1018];
const PAD_L = 70, PAD_R = 10, PAD_T = 30, PAD_B = 40;

const FONT = "'Liberation Serif', 'DejaVu Serif', serif";
Chart.defaults.font.family = FONT;
Chart.defaults.color = '#000';

const xy = (pts) => pts.map(p => ({ x: p[0], y: p[1] }));
const tickValues = (max, step) => {
  const n = Math.floor(max / step + 1e-6);
  return Array.from({ length: n + 1 }, (_, i) => +(i * step).toFixed(4));
};

// box around the axes with inward major/minor ticks on all four sides
const frameTicks = {
  id: 'frameTicks',
  afterDatasetsDraw(chart, args, opts) {
    const { ctx, chartArea: a, scales: { x, y } } = chart;
    ctx.save();
    ctx.strokeStyle = '#000';
    ctx.lineWidth = 1.3;
    ctx.strokeRect(a.left, a.top, a.right - a.left, a.bottom - a.top);
    ctx.lineWidth = 1;
    const nx = Math.floor(x.max / opts.xMinor + 1e-6);
    const every = Math.round(opts.xStep / opts.xMinor);
    ctx.beginPath();
    for (let i = 0; i <= nx; i++) {
      const px = Math.round(x.getPixelForValue(i * opts.xMinor)) + 0.5;
      const len = i % every === 0 ? 7 : 4;
      ctx.moveTo(px, a.bottom); ctx.lineTo(px, a.bottom - len);
      ctx.moveTo(px, a.top); ctx.lineTo(px, a.top + len);
    }
    const ny = Math.floor(y.max / opts.yMinor + 1e-6);
    const everyY = Math.round(opts.yStep / opts.yMinor);
    for (let i = 0; i <= ny; i++) {
      const py = Math.round(y.getPixelForValue(i * opts.yMinor)) + 0.5;
      const len = i % everyY === 0 ? 7 : 4;
      ctx.moveTo(a.left, py); ctx.lineTo(a.left + len, py);
      ctx.moveTo(a.right, py); ctx.lineTo(a.right - len, py);
    }
    ctx.stroke();
    ctx.restore();
  }
};

// vertical error bars under the measured points
const errorBars = {
  id: 'errorBars',
  beforeDatasetDraw(chart, args) {
    const ds = chart.data.datasets[args.index];
    if (!ds.errors) return;
    const { ctx, chartArea: a, scales: { x, y } } = chart;
    ctx.save();
    ctx.beginPath();
    ctx.rect(a.left, a.top, a.right - a.left, a.bottom - a.top);
    ctx.clip();
    ctx.strokeStyle = 'rgba(240,110,110,0.75)';
    ctx.lineWidth = 2;
    ds.data.forEach((p, i) => {
      const e = ds.errors[i];
      const px = x.getPixelForValue(p.x);
      ctx.beginPath();
      ctx.moveTo(px, y.getPixelForValue(p.y - e));
      ctx.lineTo(px, y.getPixelForValue(p.y + e));
      ctx.stroke();
    });
    ctx.restore();
  }
};

function curve(pts, color, width, order, dash) {
  return {
    data: xy(pts), showLine: true, borderColor: color, backgroundColor: color,
    borderWidth: width, borderDash: dash || [], pointRadius: 0,
    cubicInterpolationMode: 'monotone', order, clip: 0
  };
}

function vline(nu, yMax, color) {
  return {
    data: [{ x: nu, y: 0 }, { x: nu, y: yMax }], showLine: true,
    borderColor: color, borderWidth: 1.8, borderDash: [9, 3, 2, 3],
    pointRadius: 0, order: 3, clip: 0
  };
}

function buildPanel(row, col, s, yMax, yStep, yMinor) {
  const canvas = document.createElement('canvas');
  canvas.className = 'panel';
  canvas.width = PAD_L + PLOT_W + PAD_R;
  canvas.height = PAD_T + PLOT_H + PAD_B;
  canvas.style.left = (colLeft[col] - PAD_L) + 'px';
  canvas.style.top = (rowTop[row] - PAD_T) + 'px';
  document.body.appendChild(canvas);

  const datasets = [
    curve(s.gfmc, '#ee82ee', 9, 9),
    curve(s.edrmf, '#6495ed', 9, 8),
    curve(s.staqmc, '#00ff00', 9, 7),
    curve(s.qe, '#000', 1.8, 5, [6, 4]),
    curve(s.total, '#000', 1.8, 4),
    vline(nuW093[row], yMax, '#ff8c00'),
    vline(nuW107[row], yMax, '#40e0d0'),
    vline(nuQ2zero[row], yMax, '#a52a2a'),
    {
      data: xy(s.yama), pointStyle: 'circle', pointRadius: 3.6,
      pointBackgroundColor: '#3ff0f0', pointBorderColor: '#000', pointBorderWidth: 1,
      showLine: false, order: 2, clip: 0
    },
    {
      data: xy(s.data), errors: s.data.map(p => p[2]), pointStyle: 'rectRot', pointRadius: 6.5,
      pointBackgroundColor: '#ff0000', pointBorderColor: '#000', pointBorderWidth: 1,
      showLine: false, order: 1, clip: 0
    },
    {
      data: xy(s.photo), pointStyle: 'triangle', pointRadius: 7.5,
      pointBackgroundColor: '#00ff00', pointBorderColor: '#000', pointBorderWidth: 1,
      showLine: false, order: 0, clip: 0
    }
  ];
  if (nuW123[row] !== null) datasets.push(vline(nuW123[row], yMax, '#6a5acd'));

  const xDigits = xSteps[row] < 0.1 ? 2 : 1;
  new Chart(canvas, {
    type: 'scatter',
    data: { datasets },
    options: {
      responsive: false, animation: false, events: [],
      layout: { padding: { left: 0, right: PAD_R, top: PAD_T, bottom: 0 } },
      plugins: {
        legend: { display: false }, tooltip: { enabled: false },
        frameTicks: { xStep: xSteps[row], xMinor: xMinors[row], yStep, yMinor }
      },
      scales: {
        x: {
          type: 'linear', min: 0, max: xMaxes[row],
          grid: { display: false, drawTicks: false }, border: { display: false },
          ticks: { autoSkip: false, maxRotation: 0, padding: 6, font: { size: 26 }, color: '#000',
                   callback: v => v.toFixed(xDigits) },
          afterBuildTicks: sc => { sc.ticks = tickValues(xMaxes[row], xSteps[row]).map(value => ({ value })); },
          afterFit: sc => { sc.height = PAD_B; }
        },
        y: {
          type: 'linear', min: 0, max: yMax,
          grid: { display: false, drawTicks: false }, border: { display: false },
          ticks: { autoSkip: false, padding: 9, font: { size: 26 }, color: '#000', callback: v => String(v) },
          afterBuildTicks: sc => { sc.ticks = tickValues(yMax, yStep).map(value => ({ value })); },
          afterFit: sc => { sc.width = PAD_L; }
        }
      }
    },
    plugins: [frameTicks, errorBars]
  });

  // panel title and y-axis label
  const sub = col === 0 ? 'L' : 'T';
  const title = document.createElement('div');
  title.className = 'title';
  title.style.left = colLeft[col] + 'px';
  title.style.top = (rowTop[row] + 1) + 'px';
  title.style.color = col === 0 ? '#0000ff' : '#ff0000';
  title.innerHTML = `<b><i>R<sub>${sub}</sub></i></b><span class="op">:</span><b>|q|</b><span class="op">=</span>${qLabels[row]} <b><i>GeV</i></b>`;
  document.body.appendChild(title);

  const ylab = document.createElement('div');
  ylab.className = 'ylab';
  ylab.style.left = (colLeft[col] - 55) + 'px';
  ylab.style.top = (rowTop[row] + PLOT_H / 2) + 'px';
  ylab.innerHTML = `<b><i>R<sub>${sub}</sub></i></b>&nbsp;&nbsp;<b>(<i>GeV</i><sup>&minus;1</sup>)</b>`;
  document.body.appendChild(ylab);
}

for (let r = 0; r < 5; r++) {
  buildPanel(r, 0, rlSeries[r], rlYMax[r], rlYStep[r], rlYMinor[r]);
  buildPanel(r, 1, rtSeries[r], rtYMax[r], rtYStep[r], rtYMinor[r]);
}

// x-axis labels under the bottom row
colLeft.forEach(left => {
  const xl = document.createElement('div');
  xl.className = 'xlab';
  xl.style.left = (left + 309) + 'px';
  xl.style.top = '1262px';
  xl.innerHTML = '<b><i>&nu;</i></b>&nbsp;(<b><i>GeV</i></b>)';
  document.body.appendChild(xl);
});
</script>
</body>
</html>
